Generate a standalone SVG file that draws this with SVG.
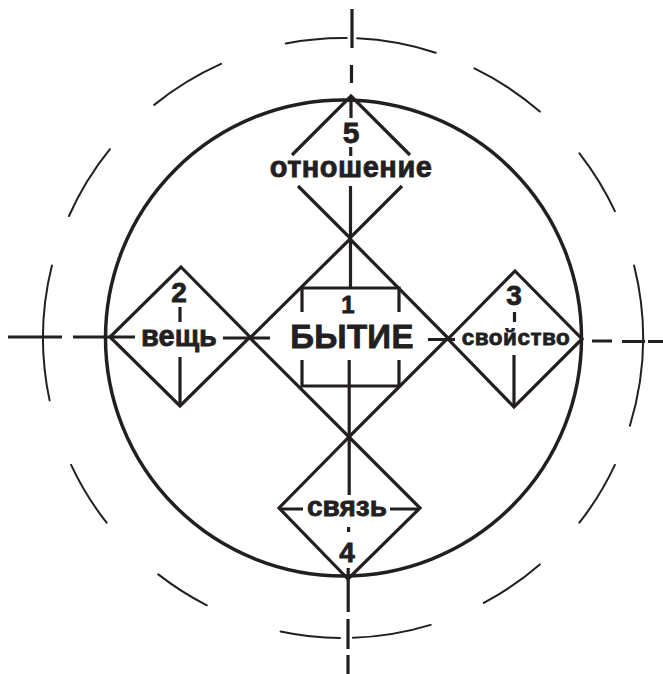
<svg xmlns="http://www.w3.org/2000/svg" width="663" height="674" viewBox="0 0 663 674">
<style>
.ln{stroke:#231f20;stroke-width:3.2;fill:none;stroke-linecap:butt;stroke-linejoin:miter}
.od{stroke:#231f20;stroke-width:2;fill:none;stroke-linecap:round}
.ic{stroke:#231f20;stroke-width:3.5;fill:none}
.t{font-family:"Liberation Sans",Arial,sans-serif;font-weight:bold;fill:#231f20;stroke:#231f20;stroke-width:0.8;text-anchor:middle}
</style>
<rect width="663" height="674" fill="#fff"/>
<g id="frame">
<circle class="ic" cx="343.5" cy="338" r="238"/>
<path class="od" d="M285.8 43.5 A300 300 0 0 1 346.7 38.0 M357.1 38.3 A300 300 0 0 1 435.7 52.7 M474.5 68.4 A300 300 0 0 1 539.8 111.6 M579.4 153.3 A300 300 0 0 1 614.9 211.2 M634.1 265.4 A300 300 0 0 1 629.9 425.7 M614.9 464.8 A300 300 0 0 1 579.4 522.7 M539.8 564.4 A300 300 0 0 1 483.8 602.9 M430.7 624.9 A300 300 0 0 1 352.9 637.8 M339.9 638.0 A300 300 0 0 1 280.6 631.4 M206.8 605.3 A300 300 0 0 1 158.3 574.4 M106.6 522.7 A300 300 0 0 1 71.1 464.8 M49.6 400.4 A300 300 0 0 1 51.9 265.4 M69.0 216.0 A300 300 0 0 1 109.9 149.2 M154.2 104.9 A300 300 0 0 1 221.0 63.9"/>
</g>
<g id="connectors">
<path class="ln" d="M352 9 V48 M351.5 65 V83 M351 96 V118 M350.7 147 V156 M350.5 186 V288 M349.2 360 V495 M348.6 527 V532 M348.2 568 V612 M348 619 V649 M348 655 V674"/>
<path class="ln" d="M8 337 H62 M73 337 H135 M223 338 H270 M428 339.5 H455 M592 341 H612 M622 341.5 H645 M648 341.5 H663"/>
<path class="ln" d="M280 509 H303 M390 509 H420"/>
</g>
<g id="node-5">
<path class="ln" d="M292 155 L351 96 L410 155 M298 186 L350 238 L402 186"/>
<text class="t" x="351" y="143" font-size="30">5</text>
<text class="t" x="351" y="177" font-size="29" letter-spacing="0.5">отношение</text>
</g>
<g id="node-2">
<path class="ln" d="M181 267 L250 337 L180 406 L110 337 Z"/>
<path class="ln" d="M180 307 V322 M180 357 V406"/>
<text class="t" x="179" y="302" font-size="28">2</text>
<text class="t" x="179" y="346" font-size="29">вещь</text>
</g>
<g id="node-3">
<path class="ln" d="M515 271 L582 339 L514 407 L448 339 Z"/>
<path class="ln" d="M514.5 312 V322 M514 355 V407"/>
<text class="t" x="514" y="305" font-size="28">3</text>
<text class="t" x="516" y="345" font-size="22.5" letter-spacing="0.5">свойство</text>
</g>
<g id="node-1">
<path class="ln" d="M350 239 L448 338 L349 437 L250 338 Z"/>
<path class="ln" d="M302 312 V288 H399 V312 M302 360 V386 H399 V360"/>
<text class="t" x="348" y="313" font-size="24">1</text>
<text class="t" x="352" y="348" font-size="33" letter-spacing="0.3">БЫТИЕ</text>
</g>
<g id="node-4">
<path class="ln" d="M349 437 L420 508 L348 579 L279 508 Z"/>
<text class="t" x="347" y="516" font-size="28">связь</text>
<text class="t" x="347" y="562" font-size="28">4</text>
</g>
</svg>
